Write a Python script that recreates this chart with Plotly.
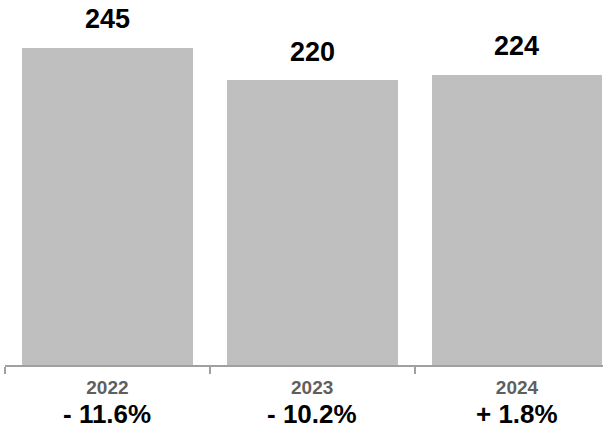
import plotly.graph_objects as go

years = ["2022", "2023", "2024"]
values = [245, 220, 224]
changes = ["- 11.6%", "- 10.2%", "+ 1.8%"]

FONT = "Liberation Sans, Arial, Helvetica, sans-serif"

fig = go.Figure(
    go.Bar(
        x=years,
        y=values,
        width=0.834,
        marker=dict(color="#bfbfbf", line=dict(width=0)),
        hoverinfo="skip",
    )
)

annotations = []
# value labels above each bar
for i, v in enumerate(values):
    annotations.append(dict(
        x=i, y=v, xref="x", yref="y",
        text="<b>%d</b>" % v, showarrow=False,
        yanchor="middle", yshift=28.5,
        font=dict(family=FONT, size=27, color="#000000"),
    ))

# year-over-year change under each year label
for i, c in enumerate(changes):
    annotations.append(dict(
        x=i, y=0, xref="x", yref="paper",
        text="<b>%s</b>" % c, showarrow=False,
        yanchor="middle", yshift=-48.5,
        font=dict(family=FONT, size=26, color="#000000"),
    ))

fig.update_layout(
    width=603, height=433,
    margin=dict(l=5, r=0, t=0, b=68),
    paper_bgcolor="white", plot_bgcolor="white",
    showlegend=False,
    bargap=0,
    annotations=annotations,
    xaxis=dict(
        type="category",
        range=[-0.5, 2.42],
        showline=True, linecolor="#a0a0a0", linewidth=2,
        ticks="outside", tickson="boundaries", ticklen=7,
        tickcolor="#a0a0a0", tickwidth=1.5,
        showgrid=False, zeroline=False,
        ticklabelstandoff=4,
        tickfont=dict(family=FONT, size=19, color="#5f5f5f", weight="bold"),
    ),
    yaxis=dict(
        range=[0, 281.9],
        visible=False, showgrid=False, zeroline=False,
    ),
)

fig.write_html("out.html")
